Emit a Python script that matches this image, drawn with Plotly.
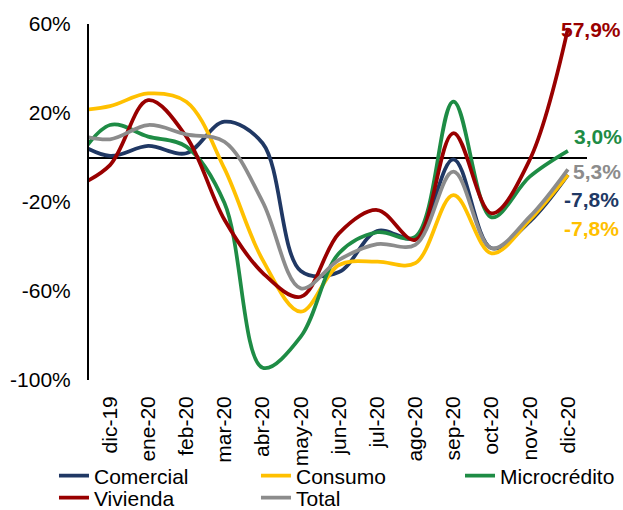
import plotly.graph_objects as go

# Categories (nov-19 lies left of the visible axis range; only its stub is visible)
months = ["nov-19", "dic-19", "ene-20", "feb-20", "mar-20", "abr-20", "may-20",
          "jun-20", "jul-20", "ago-20", "sep-20", "oct-20", "nov-20", "dic-20"]

comercial    = [8.0, 0.7, 5.2, 1.9, 16.1, 6.4, -51.0, -51.5, -33.0, -36.0, -0.8, -40.8, -28.8, -7.8]
consumo      = [21.0, 23.1, 28.8, 25.1, -5.0, -46.0, -69.3, -48.3, -46.8, -47.5, -16.9, -43.1, -28.1, -7.8]
microcredito = [-5.0, 14.6, 9.4, 4.9, -20.5, -94.5, -80.5, -43.0, -33.6, -35.6, 25.1, -26.9, -8.6, 3.0]
vivienda     = [-14.0, -3.4, 25.8, 9.4, -28.0, -51.8, -62.6, -34.1, -23.6, -37.0, 10.9, -25.1, -1.0, 57.9]
total        = [11.0, 8.2, 14.6, 10.4, 7.1, -19.9, -58.8, -46.0, -38.9, -39.3, -6.4, -40.8, -26.6, -5.3]

series_names = ["Comercial", "Consumo", "Microcrédito", "Vivienda", "Total"]
series_vals = [comercial, consumo, microcredito, vivienda, total]
colors = ["#203864", "#FFC000", "#1E8C45", "#990000", "#8C8C8C"]

end_labels = ["-7,8%", "-7,8%", "3,0%", "57,9%", "5,3%"]

y_ticks = [60, 20, -20, -60, -100]
y_tick_text = ["60%", "20%", "-20%", "-60%", "-100%"]

FONT = "Liberation Sans, Arial, sans-serif"
FS = 21

# legend slots (one legend per entry, laid out as 3 columns x 2 rows)
legend_keys = ["legend", "legend2", "legend3", "legend4", "legend5"]
legend_pos = [(-0.0703, -0.2697), (0.3353, -0.2697), (0.7450, -0.2697),
              (-0.0703, -0.3315), (0.3353, -0.3315)]

fig = go.Figure()
for name, vals, col, lk in zip(series_names, series_vals, colors, legend_keys):
    fig.add_trace(go.Scatter(
        x=months, y=vals, name=name, mode="lines", legend=lk,
        line=dict(color=col, width=3.75, shape="spline", smoothing=1.0),
        hoverinfo="skip",
    ))

# end-of-series labels (offsets relative to last point)
shifts = {
    "Comercial": (-6, -25),
    "Consumo": (-6, -54),
    "Microcrédito": (4, 14),
    "Vivienda": (-9, -1),
    "Total": (3, -2),
}
for name, vals, col, lab in zip(series_names, series_vals, colors, end_labels):
    dx, dy = shifts[name]
    fig.add_annotation(
        x=months[-1], y=vals[-1], xref="x", yref="y", text=f"<b>{lab}</b>",
        showarrow=False, xanchor="left", yanchor="middle",
        xshift=dx, yshift=dy,
        font=dict(family=FONT, size=FS, color=col),
    )

layout_legends = {}
for lk, (lx, ly) in zip(legend_keys, legend_pos):
    layout_legends[lk] = dict(
        orientation="v", x=lx, xanchor="left", y=ly, yanchor="middle",
        font=dict(family=FONT, size=FS, color="black"),
        bgcolor="rgba(0,0,0,0)",
    )

fig.update_layout(
    width=623, height=510,
    margin=dict(l=89, r=36, t=24, b=130, autoexpand=False),
    plot_bgcolor="white", paper_bgcolor="white",
    font=dict(family=FONT, size=FS, color="black"),
    showlegend=True,
    **layout_legends,
)

fig.update_xaxes(
    type="category", range=[0.45, 13.5], automargin=False,
    tickangle=-90, showgrid=False, showline=False, zeroline=False,
    ticks="", ticklabelstandoff=11,
    tickfont=dict(family=FONT, size=FS, color="black"),
)
fig.update_yaxes(
    range=[-100, 60], tickvals=y_ticks, ticktext=y_tick_text, automargin=False,
    showgrid=False, showline=True, linecolor="black", linewidth=2,
    zeroline=True, zerolinecolor="black", zerolinewidth=1.5,
    ticks="", ticklabelstandoff=12,
    tickfont=dict(family=FONT, size=FS, color="black"),
)

fig.write_html("out.html")
